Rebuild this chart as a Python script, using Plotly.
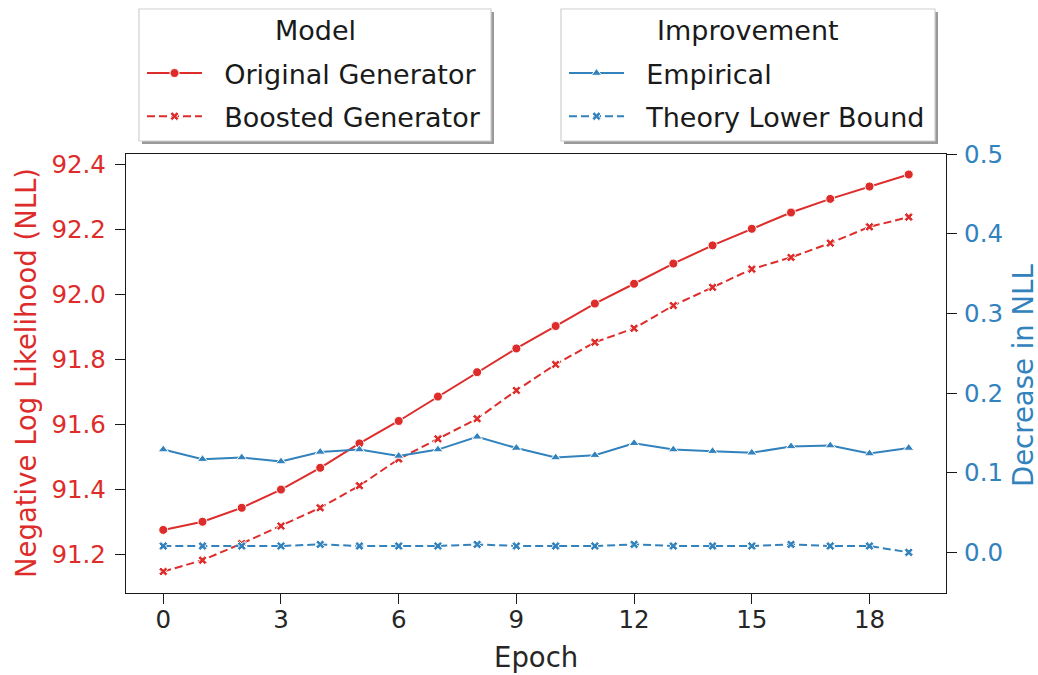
import plotly.graph_objects as go

epochs = list(range(20))
original_nll = [91.276, 91.301, 91.344, 91.400, 91.467, 91.542, 91.611, 91.686, 91.761, 91.834,
                91.903, 91.972, 92.033, 92.095, 92.151, 92.202, 92.252, 92.294, 92.332, 92.369]
boosted_nll = [91.148, 91.183, 91.234, 91.288, 91.344, 91.412, 91.494, 91.556, 91.618, 91.705,
               91.785, 91.853, 91.896, 91.966, 92.022, 92.078, 92.114, 92.158, 92.208, 92.238]
empirical = [0.129, 0.117, 0.119, 0.114, 0.126, 0.129, 0.121, 0.129, 0.145, 0.131,
             0.119, 0.122, 0.137, 0.129, 0.127, 0.125, 0.133, 0.134, 0.124, 0.131]
theory_lb = [0.008, 0.008, 0.008, 0.008, 0.010, 0.008, 0.008, 0.008, 0.010, 0.008,
             0.008, 0.008, 0.010, 0.008, 0.008, 0.008, 0.010, 0.008, 0.008, 0.000]
x_ticks = [0, 3, 6, 9, 12, 15, 18]
left_ticks = [91.2, 91.4, 91.6, 91.8, 92.0, 92.2, 92.4]
right_ticks = [0.0, 0.1, 0.2, 0.3, 0.4, 0.5]
legend_titles = ["Model", "Improvement"]
x_title = "Epoch"
y_title = "Negative Log Likelihood (NLL)"
y2_title = "Decrease in NLL"

RED = "#dd2c2a"
BLUE = "#3182bd"
FONT = "DejaVu Sans"
TICK = 24.5
LAB = 27.5
LEG = 27
SP = "\u00a0\u00a0"

fig = go.Figure()
mk_line = dict(color="white", width=1)
fig.add_trace(go.Scatter(x=epochs, y=original_nll, name=SP + "Original Generator", mode="lines+markers",
                         line=dict(color=RED, width=2),
                         marker=dict(symbol="circle", size=9, color=RED, line=mk_line),
                         legend="legend", legendgroup="a"))
fig.add_trace(go.Scatter(x=epochs, y=boosted_nll, name=SP + "Boosted Generator", mode="lines+markers",
                         line=dict(color=RED, width=2, dash="8px,4px"),
                         marker=dict(symbol="x", size=8, color=RED, line=mk_line),
                         legend="legend", legendgroup="b"))
fig.add_trace(go.Scatter(x=epochs, y=empirical, name=SP + "Empirical", mode="lines+markers",
                         line=dict(color=BLUE, width=2),
                         marker=dict(symbol="triangle-up", size=9, color=BLUE, line=mk_line),
                         yaxis="y2", legend="legend2", legendgroup="c"))
fig.add_trace(go.Scatter(x=epochs, y=theory_lb, name=SP + "Theory Lower Bound", mode="lines+markers",
                         line=dict(color=BLUE, width=2, dash="8px,4px"),
                         marker=dict(symbol="x", size=8, color=BLUE, line=mk_line),
                         yaxis="y2", legend="legend2", legendgroup="d"))

W, H = 1038, 675
L, R, T, B = 126, 92, 154, 82
pw, ph = W - L - R, H - T - B

def px(xp):
    return (xp - L) / pw

def py(yp):
    return (H - B - yp) / ph

def cx(xp):
    return xp / W

def cy(yp):
    return 1 - yp / H

legend_common = dict(
    bgcolor="rgba(0,0,0,0)", borderwidth=0,
    font=dict(family=FONT, size=LEG, color="#1a1a1a"),
    itemwidth=55, xanchor="left", yanchor="top", yref="container", xref="container",
    tracegroupgap=5, itemsizing="trace", traceorder="grouped",
)

axis_line = dict(showline=True, linecolor="#1a1a1a", linewidth=1.3,
                 ticks="outside", ticklen=10, tickwidth=1.3, tickcolor="#1a1a1a",
                 showgrid=False, zeroline=False, automargin=False)

fig.update_layout(
    width=W, height=H,
    margin=dict(l=L, r=R, t=T, b=B, pad=0, autoexpand=False),
    plot_bgcolor="white", paper_bgcolor="white",
    font=dict(family=FONT, size=TICK, color="#262626"),
    showlegend=True,
    legend=dict(**legend_common, x=cx(142), y=cy(49)),
    legend2=dict(**legend_common, x=cx(564), y=cy(49)),
    xaxis=dict(range=[-0.95, 19.95], tickmode="array", tickvals=x_ticks, mirror=True, **axis_line,
               tickfont=dict(family=FONT, size=TICK, color="#262626"), ticklabelstandoff=-6),
    yaxis=dict(range=[91.082, 92.432], tickmode="array", tickvals=left_ticks,
               ticktext=[f"{v:.1f}" for v in left_ticks], **axis_line,
               tickfont=dict(family=FONT, size=TICK, color=RED), ticklabelstandoff=4),
    yaxis2=dict(range=[-0.051, 0.5], overlaying="y", side="right", tickmode="array", tickvals=right_ticks,
                ticktext=[f"{v:.1f}" for v in right_ticks], **axis_line,
                tickfont=dict(family=FONT, size=TICK, color=BLUE), ticklabelstandoff=2),
)

# axis titles
fig.add_annotation(xref="paper", yref="paper", x=0.5, y=py(657), text=x_title, showarrow=False,
                   xanchor="center", yanchor="middle", font=dict(family=FONT, size=LAB, color="#262626"))
fig.add_annotation(xref="paper", yref="paper", x=px(26), y=py(373), text=y_title, showarrow=False,
                   textangle=-90, xanchor="center", yanchor="middle", font=dict(family=FONT, size=LAB, color=RED))
fig.add_annotation(xref="paper", yref="paper", x=px(1023), y=py(376), text=y2_title, showarrow=False,
                   textangle=-90, xanchor="center", yanchor="middle", font=dict(family=FONT, size=LAB, color=BLUE))

# legend frames with shadows and titles
for (x0, x1), title in zip([(139, 491), (561, 935)], legend_titles):
    fig.add_shape(type="rect", xref="paper", yref="paper",
                  x0=px(x0 + 3), x1=px(x1 + 3), y0=py(141 + 3), y1=py(9 + 3),
                  fillcolor="#9a9a9a", line=dict(width=0), layer="above")
    fig.add_shape(type="rect", xref="paper", yref="paper",
                  x0=px(x0), x1=px(x1), y0=py(141), y1=py(9),
                  fillcolor="white", line=dict(width=1.2, color="#d0d0d0"), layer="above")
    fig.add_annotation(xref="paper", yref="paper", x=px((x0 + x1) / 2), y=py(31),
                       text=title, showarrow=False, xanchor="center", yanchor="middle",
                       font=dict(family=FONT, size=LEG, color="#1a1a1a"))

fig.write_html("out.html", post_script="document.body.style.margin='0';",
               config={"displayModeBar": False})
